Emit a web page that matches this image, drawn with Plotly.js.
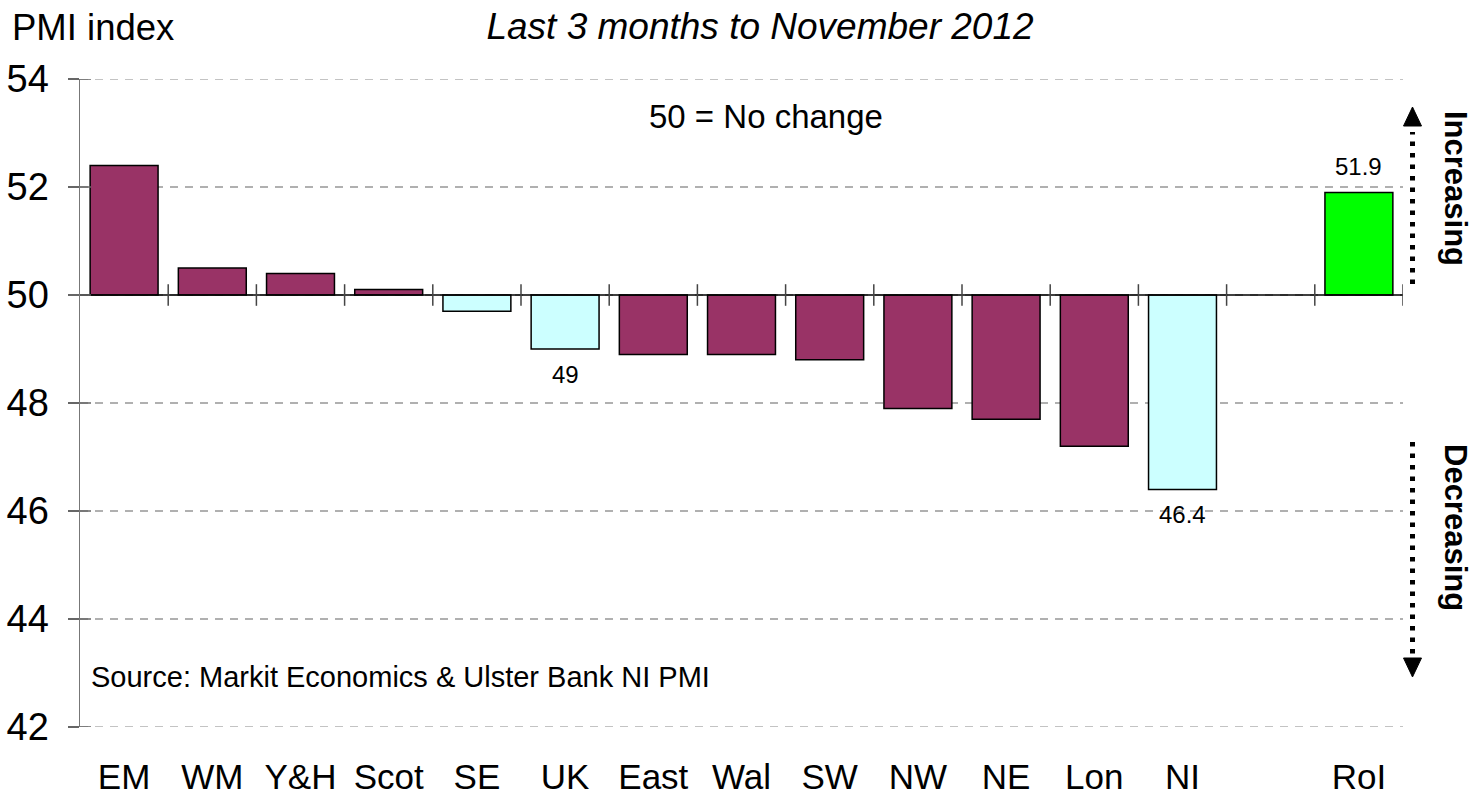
<!DOCTYPE html>
<html>
<head>
<meta charset="utf-8">
<script src="https://cdn.plot.ly/plotly-3.0.1.min.js"></script>
<style>html,body{margin:0;padding:0;background:#fff;}#chart{width:1474px;height:796px;}</style>
</head>
<body>
<div id="chart"></div>
<script>
// ---- data ----
const categories = ['EM','WM','Y&H','Scot','SE','UK','East','Wal','SW','NW','NE','Lon','NI','','RoI'];
const pmiValues  = [52.4, 50.5, 50.4, 50.1, 49.7, 49.0, 48.9, 48.9, 48.8, 47.9, 47.7, 47.2, 46.4, null, 51.9];
const labelled   = ['UK','NI','RoI'];
const yTicks     = [42, 44, 46, 48, 50, 52, 54];
const baseline   = 50;

// ---- styles ----
const MAROON = '#993366', CYAN = '#CCFFFF', GREEN = '#00FF00';
const barColors = categories.map(c => c === 'RoI' ? GREEN : (['SE','UK','NI'].includes(c) ? CYAN : MAROON));
const FONT = 'Liberation Sans, Arial, Helvetica, sans-serif';
const GRID = '#b0b0b0', GRIDDASH = '8px,7px';

// layout geometry
const L = 80, R = 71, T = 79, B = 69, W = 1474, H = 796;
const PW = W - L - R, PH = H - T - B;
const px = x => (x - L) / PW;          // pixel -> paper x
const py = y => (H - B - y) / PH;      // pixel -> paper y

const idx = categories.map((c, i) => i);

const trace = {
  type: 'bar',
  x: idx,
  y: pmiValues.map(v => v === null ? null : v - baseline),
  base: pmiValues.map(v => v === null ? null : baseline),
  width: 0.77,
  marker: { color: barColors, line: { color: '#000', width: 1.5 } },
  hoverinfo: 'skip'
};

const shapes = [];
// dashed gridlines at the range ends (not drawn by the axis)
[yTicks[0], yTicks[yTicks.length - 1]].forEach(t => {
  shapes.push({ type: 'line', xref: 'paper', yref: 'y', x0: 0, x1: 1, y0: t, y1: t,
    line: { color: GRID, width: 1.5, dash: GRIDDASH }, layer: 'below' });
});
// baseline at 50
shapes.push({ type: 'line', xref: 'paper', yref: 'y', x0: 0, x1: 1, y0: baseline, y1: baseline,
  line: { color: '#000', width: 1.5 }, layer: 'above' });
// category separator ticks on the 50 line
for (let i = 0; i < categories.length; i++) {
  shapes.push({ type: 'line', xref: 'x', yref: 'y', x0: i + 0.5, x1: i + 0.5,
    y0: baseline - 0.2, y1: baseline + 0.2, line: { color: '#444', width: 1.5 }, layer: 'above' });
}
// inner part of y ticks (ticks cross the axis)
yTicks.forEach(t => {
  shapes.push({ type: 'line', xref: 'paper', yref: 'y', x0: 0, x1: 11 / PW, y0: t, y1: t,
    line: { color: '#666', width: 1.5 }, layer: 'above' });
});
// dotted arrows on the right
const ax = px(1412.5), hw = 9 / PW;
shapes.push({ type: 'line', xref: 'paper', yref: 'paper', x0: ax, x1: ax, y0: py(284), y1: py(132),
  line: { color: '#000', width: 5, dash: '4.5px,7px' } });
shapes.push({ type: 'path', xref: 'paper', yref: 'paper',
  path: `M ${ax - hw} ${py(126)} L ${ax + hw} ${py(126)} L ${ax} ${py(107)} Z`,
  fillcolor: '#000', line: { color: '#000', width: 1 } });
shapes.push({ type: 'line', xref: 'paper', yref: 'paper', x0: ax, x1: ax, y0: py(442), y1: py(657),
  line: { color: '#000', width: 5, dash: '4.5px,7px' } });
shapes.push({ type: 'path', xref: 'paper', yref: 'paper',
  path: `M ${ax - hw} ${py(658)} L ${ax + hw} ${py(658)} L ${ax} ${py(677)} Z`,
  fillcolor: '#000', line: { color: '#000', width: 1 } });

const annotations = [];
// value labels
categories.forEach((c, i) => {
  if (!labelled.includes(c)) return;
  const v = pmiValues[i];
  const up = v >= baseline;
  annotations.push({ x: i, y: v, xref: 'x', yref: 'y', text: String(v), showarrow: false,
    yanchor: up ? 'bottom' : 'top', yshift: up ? 10 : -10,
    font: { family: FONT, size: 24, color: '#000' } });
});
annotations.push({ xref: 'paper', yref: 'paper', x: px(10), y: py(28), xanchor: 'left', yanchor: 'middle',
  text: 'PMI index', showarrow: false, font: { family: FONT, size: 36.5, color: '#000' } });
annotations.push({ xref: 'paper', yref: 'paper', x: px(766), y: py(116), xanchor: 'center', yanchor: 'middle',
  text: '50 = No change', showarrow: false, font: { family: FONT, size: 33, color: '#000' } });
annotations.push({ xref: 'paper', yref: 'paper', x: px(89), y: py(677), xanchor: 'left', yanchor: 'middle',
  text: 'Source: Markit Economics &amp; Ulster Bank NI PMI', showarrow: false,
  font: { family: FONT, size: 29, color: '#000' } });
annotations.push({ xref: 'paper', yref: 'paper', x: px(1456), y: py(188), xanchor: 'center', yanchor: 'middle',
  text: '<b>Increasing</b>', textangle: 90, showarrow: false, font: { family: FONT, size: 31, color: '#000' } });
annotations.push({ xref: 'paper', yref: 'paper', x: px(1456), y: py(527), xanchor: 'center', yanchor: 'middle',
  text: '<b>Decreasing</b>', textangle: 90, showarrow: false, font: { family: FONT, size: 31, color: '#000' } });

const layout = {
  width: W, height: H,
  margin: { l: L, r: R, t: T, b: B, pad: 0 },
  paper_bgcolor: '#fff', plot_bgcolor: '#fff',
  showlegend: false,
  title: { text: '<i>Last 3 months to November 2012</i>', xref: 'paper', x: px(760), xanchor: 'center',
    yref: 'container', y: 1 - 26 / H, yanchor: 'middle', font: { family: FONT, size: 37, color: '#000' } },
  xaxis: {
    range: [-0.5, categories.length - 0.5], tickmode: 'array', tickvals: idx, ticktext: categories,
    showgrid: false, zeroline: false, showline: false, ticks: '',
    tickfont: { family: FONT, size: 35, color: '#000' }, ticklabelstandoff: 26, fixedrange: true
  },
  yaxis: {
    range: [42, 54], tickmode: 'array', tickvals: yTicks,
    showgrid: true, gridcolor: GRID, gridwidth: 1.5, griddash: GRIDDASH,
    zeroline: false, showline: true, linecolor: '#777', linewidth: 1.5,
    ticks: 'outside', ticklen: 11, tickcolor: '#666', tickwidth: 1.5,
    tickfont: { family: FONT, size: 38, color: '#000' }, ticklabelstandoff: 11, fixedrange: true
  },
  bargap: 0.23,
  shapes: shapes,
  annotations: annotations
};

Plotly.newPlot('chart', [trace], layout, { displayModeBar: false, staticPlot: true });
</script>
</body>
</html>
